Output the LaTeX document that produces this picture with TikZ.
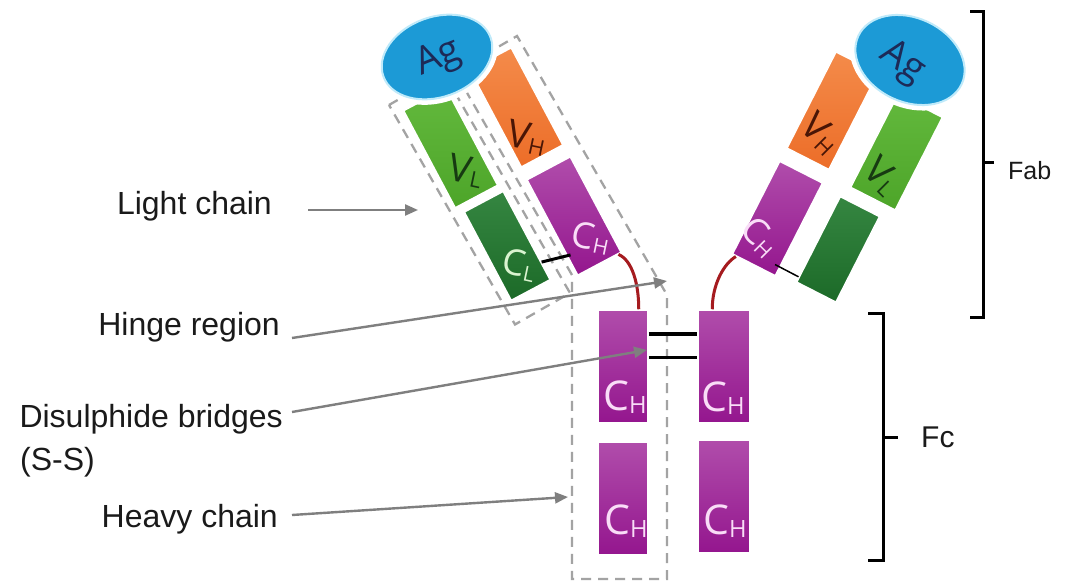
\documentclass[tikz,border=0pt]{standalone}
\usepackage{fontspec}
\setmainfont{Liberation Sans}
\newfontfamily\domfont{Open Sans}
\usetikzlibrary{arrows.meta,calc,shapes.geometric}

% palette
\definecolor{agblue}{HTML}{1C9AD6}
\definecolor{agglow}{HTML}{BFEAFA}
\definecolor{agtext}{HTML}{1D2A57}
\definecolor{vlTop}{HTML}{63B93D}
\definecolor{vlBot}{HTML}{4DA529}
\definecolor{vlText}{HTML}{173A12}
\definecolor{vhTop}{HTML}{F48B4A}
\definecolor{vhBot}{HTML}{EC6D28}
\definecolor{vhText}{HTML}{4A1606}
\definecolor{clTop}{HTML}{358641}
\definecolor{clBot}{HTML}{1C6A28}
\definecolor{clText}{HTML}{DAF4D0}
\definecolor{chTop}{HTML}{B04DAB}
\definecolor{chBot}{HTML}{94168E}
\definecolor{chText}{HTML}{F9DDF7}
\definecolor{hingeRed}{HTML}{A51B1F}
\definecolor{boxGray}{HTML}{A3A3A3}
\definecolor{arrowGray}{HTML}{7F7F7F}
\definecolor{labelInk}{HTML}{1A1A1A}

% domain name with a lowered subscript letter
\newcommand{\dom}[2]{#1\raisebox{-0.08em}{\scalebox{0.58}{#2}}}

\tikzset{
  domainblk/.style={rectangle, draw=white, line width=1.5pt, inner sep=0pt, transform shape},
  vlblk/.style={domainblk, top color=vlTop, bottom color=vlBot},
  vhblk/.style={domainblk, top color=vhTop, bottom color=vhBot},
  clblk/.style={domainblk, top color=clTop, bottom color=clBot},
  chblk/.style={domainblk, top color=chTop, bottom color=chBot},
  agell/.style={ellipse, fill=agblue, draw=agglow, line width=2pt, inner sep=0pt,
                preaction={draw=white, line width=11pt}},
  domlbl/.style={inner sep=0pt, font=\domfont\fontsize{38}{38}\selectfont},
  smalldom/.style={inner sep=0pt, font=\domfont\fontsize{36}{36}\selectfont},
  fcdom/.style={inner sep=0pt, font=\domfont\fontsize{41}{41}\selectfont, text=chText},
  aglbl/.style={inner sep=0pt, font=\domfont\fontsize{38}{38}\selectfont, text=agtext},
  chainbox/.style={draw=boxGray, line width=2.3pt, dash pattern=on 10pt off 7pt},
  hingeline/.style={draw=hingeRed, line width=3pt},
  sslink/.style={draw=black},
  pointer/.style={draw=arrowGray, line width=2.4pt, -{Triangle[length=13pt,width=11pt]}},
  sidelbl/.style={inner sep=0pt, text=labelInk, font=\fontsize{32}{38}\selectfont},
  brk/.style={draw=black, line width=3pt},
}

\begin{document}
\begin{tikzpicture}[x=1pt, y=-1pt]
\fill[white] (0,0) rectangle (1073,585);
\useasboundingbox (0,0) rectangle (1073,585);

% dashed outlines of the light and heavy chains
\draw[chainbox] (389,105) -- (444,73.5) -- (570,293) -- (515,324.5) -- cycle;
\draw[chainbox] (455,72) -- (517,36) -- (667,295) -- (667,579) -- (572,579) -- (572,275) -- cycle;

% left Fab arm
\begin{scope}[shift={(574,216)}, rotate=28]
  \node[chblk, minimum width=49pt, minimum height=108pt] (lCH) at (0,0) {};
  \node[vhblk, minimum width=47pt, minimum height=110pt] (lVH) at (0,-123) {};
  \node[clblk, minimum width=44pt, minimum height=100pt] (lCL) at (-73,-5) {};
  \node[vlblk, minimum width=48pt, minimum height=110pt] (lVL) at (-77,-118) {};
\end{scope}

% right Fab arm
\begin{scope}[shift={(777.5,218.5)}, rotate=-27]
  \node[chblk, minimum width=48pt, minimum height=104pt] (rCH) at (0,0) {};
  \node[vhblk, minimum width=47pt, minimum height=108pt] (rVH) at (0,-121) {};
  \node[clblk, minimum width=44pt, minimum height=96pt] (rCL) at (68,0) {};
  \node[vlblk, minimum width=50pt, minimum height=104pt] (rVL) at (76,-113) {};
\end{scope}

% antigens
\node[agell, rotate=20, minimum width=114pt, minimum height=80pt] (lAg) at (437,57) {};
\node[agell, rotate=-25, minimum width=114pt, minimum height=84pt] (rAg) at (910,60) {};

% Fc constant domains
\node[chblk, minimum width=50pt, minimum height=113pt] (fUL) at (623,366.5) {};
\node[chblk, minimum width=52pt, minimum height=113pt] (fUR) at (724,366.5) {};
\node[chblk, minimum width=50pt, minimum height=113pt] (fLL) at (623,498.5) {};
\node[chblk, minimum width=52pt, minimum height=113pt] (fLR) at (724,496.5) {};

% hinge region
\draw[hingeline] ($(lCH.south east)!0.08!(lCH.south west)$) .. controls +(14,6) and +(0,-25) .. ($(fUL.north east)+(-10,0)$);
\draw[hingeline] ($(fUR.north west)+(15,0)$) .. controls +(0,-25) and +(-12,7) .. ($(rCH.south west)!0.1!(rCH.south east)$);

% disulphide bridges
\draw[sslink, line width=4pt] ($(fUL.north east)+(0,25)$) -- ($(fUR.north west)+(0,25)$);
\draw[sslink, line width=3pt] ($(fUL.north east)+(0,48)$) -- ($(fUR.north west)+(0,48)$);
\draw[sslink, line width=3pt, shorten >=-4pt] ($(lCL.south east)!0.4!(lCL.east)$) -- ($(lCH.south west)!0.42!(lCH.west)$);
\draw[sslink, line width=1.5pt, shorten <=-6pt] ($(rCH.south east)!0.2!(rCH.east)$) -- ($(rCL.south west)!0.13!(rCL.west)$);

% domain names
\node[aglbl, rotate=22] (tAgL) at (439,59) {Ag};
\node[aglbl, rotate=-35] (tAgR) at (902,63) {Ag};
\node[domlbl, text=vlText, rotate=-12] (tVLl) at (466,171) {\dom{V}{L}};
\node[domlbl, text=vhText, rotate=-12] (tVHl) at (527,138) {\dom{V}{H}};
\node[smalldom, text=clText, rotate=-12] (tCLl) at (519,265) {\dom{C}{L}};
\node[smalldom, text=chText, rotate=-12] (tCHl) at (591,238) {\dom{C}{H}};
\node[domlbl, text=vhText, rotate=-45] (tVHr) at (821,134) {\dom{V}{H}};
\node[domlbl, text=vlText, rotate=-45] (tVLr) at (882,176) {\dom{V}{L}};
\node[smalldom, text=chText, rotate=-45] (tCHr) at (760,237) {\dom{C}{H}};
\node[fcdom] (tC1) at (625,397) {\dom{C}{H}};
\node[fcdom] (tC2) at (723,398) {\dom{C}{H}};
\node[fcdom] (tC3) at (626,521) {\dom{C}{H}};
\node[fcdom] (tC4) at (725,521) {\dom{C}{H}};

% side labels
\node[sidelbl, anchor=base east] (tLight) at (272,215) {Light chain};
\node[sidelbl, anchor=base east] (tHinge) at (280,335) {Hinge region};
\node[sidelbl, anchor=base east] (tSS) at (283,427) {Disulphide bridges};
\node[sidelbl, anchor=base west] (tSS2) at (20,470) {(S-S)};
\node[sidelbl, anchor=base east] (tHeavy) at (278,527) {Heavy chain};

\coordinate (tipLight) at (418,210);
\coordinate (tipHinge) at (667,281);
\coordinate (tipSS) at (647,350);
\coordinate (tipHeavy) at (568,497);

\draw[pointer] ($(tLight.base east)+(36,-5)$) -- (tipLight);
\draw[pointer] ($(tHinge.base east)+(12,3)$) -- (tipHinge);
\draw[pointer] ($(tSS.base east)+(9,-15)$) -- (tipSS);
\draw[pointer] ($(tHeavy.base east)+(14,-12)$) -- (tipHeavy);

% Fab and Fc brackets
\draw[brk] (970,12) -- (983,12) -- (983,317) -- (970,317);
\draw[brk] (983,163) -- (994,163);
\node[inner sep=0pt, anchor=base west, text=labelInk, font=\fontsize{25}{28}\selectfont] (tFab) at (1008,180) {Fab};
\draw[brk] (868,313) -- (883,313) -- (883,560) -- (868,560);
\draw[brk] (883,437) -- (898,437);
\node[inner sep=0pt, anchor=base west, text=labelInk, font=\fontsize{30}{34}\selectfont] (tFc) at (921,447) {Fc};
\end{tikzpicture}
\end{document}
